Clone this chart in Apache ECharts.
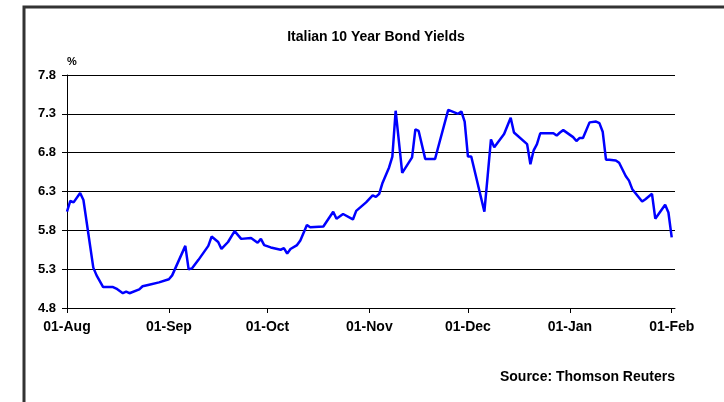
<!DOCTYPE html>
<html>
<head>
<meta charset="utf-8">
<script src="https://cdn.jsdelivr.net/npm/echarts@6/dist/echarts.min.js"></script>
<style>
  html, body { margin: 0; padding: 0; background: #fff; }
  #chart { width: 724px; height: 402px; }
</style>
</head>
<body>
<div id="chart"></div>
<script>
// 数据：日期 + 收益率
const dates = [
  '2011-08-01','2011-08-02','2011-08-03','2011-08-05','2011-08-06','2011-08-09','2011-08-10','2011-08-12',
  '2011-08-15','2011-08-16','2011-08-18','2011-08-19','2011-08-20','2011-08-23','2011-08-24','2011-08-26',
  '2011-08-29','2011-09-01','2011-09-02','2011-09-06','2011-09-07','2011-09-08','2011-09-10','2011-09-13',
  '2011-09-14','2011-09-16','2011-09-17','2011-09-19','2011-09-21','2011-09-23','2011-09-26','2011-09-28',
  '2011-09-29','2011-09-30','2011-10-02','2011-10-05','2011-10-06','2011-10-07','2011-10-08','2011-10-10',
  '2011-10-11','2011-10-13','2011-10-14','2011-10-18','2011-10-21','2011-10-22','2011-10-24','2011-10-27',
  '2011-10-28','2011-10-31','2011-11-02','2011-11-03','2011-11-04','2011-11-05','2011-11-07','2011-11-08',
  '2011-11-09','2011-11-11','2011-11-14','2011-11-15','2011-11-16','2011-11-18','2011-11-21','2011-11-22',
  '2011-11-25','2011-11-28','2011-11-29','2011-11-30','2011-12-01','2011-12-02','2011-12-06','2011-12-07',
  '2011-12-08','2011-12-09','2011-12-12','2011-12-14','2011-12-15','2011-12-19','2011-12-20','2011-12-21',
  '2011-12-22','2011-12-23','2011-12-27','2011-12-28','2011-12-29','2011-12-30','2012-01-02','2012-01-03',
  '2012-01-04','2012-01-05','2012-01-07','2012-01-09','2012-01-10','2012-01-11','2012-01-12','2012-01-13',
  '2012-01-15','2012-01-16','2012-01-18','2012-01-19','2012-01-20','2012-01-23','2012-01-24','2012-01-26',
  '2012-01-27','2012-01-30','2012-01-31','2012-02-01'
];
const yields = [
  6.04, 6.18, 6.16, 6.28, 6.19, 5.32, 5.22, 5.07,
  5.07, 5.05, 4.99, 5.01, 4.99, 5.04, 5.08, 5.10,
  5.13, 5.17, 5.22, 5.60, 5.30, 5.31, 5.42, 5.60,
  5.72, 5.65, 5.56, 5.65, 5.79, 5.69, 5.70, 5.64,
  5.69, 5.61, 5.58, 5.55, 5.57, 5.50, 5.56, 5.61,
  5.67, 5.87, 5.84, 5.85, 6.04, 5.95, 6.01, 5.94,
  6.05, 6.16, 6.25, 6.23, 6.27, 6.41, 6.61, 6.75,
  7.34, 6.54, 6.74, 7.10, 7.08, 6.72, 6.72, 6.88,
  7.35, 7.30, 7.33, 7.20, 6.75, 6.75, 6.04, 6.50,
  6.97, 6.87, 7.04, 7.25, 7.06, 6.91, 6.65, 6.83,
  6.91, 7.05, 7.05, 7.02, 7.06, 7.09, 7.00, 6.95,
  6.99, 6.99, 7.19, 7.20, 7.18, 7.07, 6.71, 6.71,
  6.70, 6.67, 6.50, 6.44, 6.33, 6.17, 6.20, 6.27,
  5.95, 6.13, 6.03, 5.71
];
const yTicks = [4.8, 5.3, 5.8, 6.3, 6.8, 7.3, 7.8];
const monthNames = ['Jan','Feb','Mar','Apr','May','Jun','Jul','Aug','Sep','Oct','Nov','Dec'];

let myChart = echarts.init(document.getElementById('chart'));
const font = 'Liberation Sans, Arial, sans-serif';

myChart.setOption({
  animation: false,
  backgroundColor: '#fff',
  title: {
    text: 'Italian 10 Year Bond Yields',
    left: 371, top: 25, textAlign: 'center',
    textStyle: { fontFamily: font, fontSize: 14, fontWeight: 'bold', color: '#000' }
  },
  graphic: [
    // 外框
    { type: 'rect', shape: { x: 24, y: 7, width: 760, height: 460 },
      style: { fill: 'none', stroke: '#333', lineWidth: 3 } },
    { type: 'text', left: 67, top: 56,
      style: { text: '%', font: 'bold 11px ' + font, fill: '#000' } },
    { type: 'text', right: 49, top: 370,
      style: { text: 'Source: Thomson Reuters', font: 'bold 14px ' + font, fill: '#000', textAlign: 'right' } }
  ],
  grid: { left: 67, right: 49, top: 75, bottom: 94 },
  xAxis: {
    type: 'time',
    min: '2011-08-01', max: '2012-02-02',
    splitNumber: 6,
    minInterval: 28 * 86400000,
    axisLine: { lineStyle: { color: '#000', width: 1 } },
    axisTick: { show: true, length: 5, lineStyle: { color: '#000' } },
    splitLine: { show: false },
    axisLabel: {
      margin: 12, fontFamily: font, fontSize: 14, fontWeight: 'bold', color: '#000',
      formatter: function (v) {
        let d = new Date(v);
        return '01-' + monthNames[d.getMonth()];
      }
    }
  },
  yAxis: {
    type: 'value',
    min: yTicks[0], max: yTicks[yTicks.length - 1], interval: 0.5,
    axisLine: { show: true, lineStyle: { color: '#000', width: 1 } },
    axisTick: { show: true, length: 5, lineStyle: { color: '#000' } },
    splitLine: { show: true, lineStyle: { color: '#000', width: 1 } },
    axisLabel: {
      margin: 11, fontFamily: font, fontSize: 13, fontWeight: 'bold', color: '#000',
      formatter: v => v.toFixed(1)
    }
  },
  series: [{
    type: 'line',
    data: dates.map((d, i) => [d, yields[i]]),
    showSymbol: false,
    lineStyle: { color: '#0000ff', width: 2.5 },
    itemStyle: { color: '#0000ff' }
  }]
});
</script>
</body>
</html>
